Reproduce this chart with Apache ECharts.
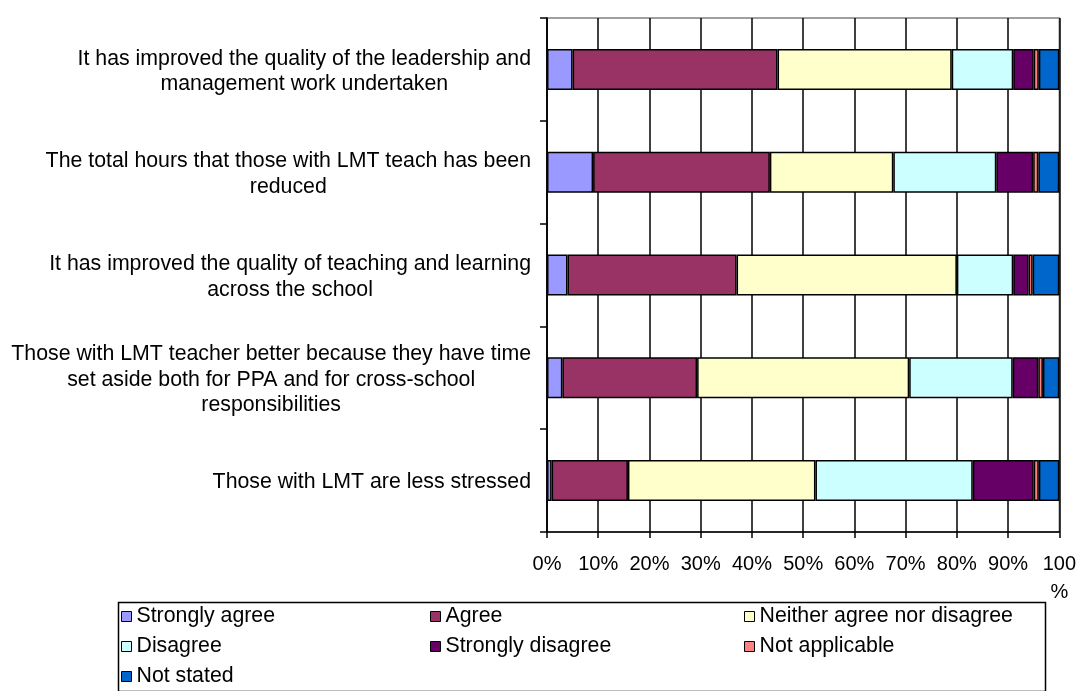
<!DOCTYPE html>
<html>
<head>
<meta charset="utf-8">
<script src="https://cdn.jsdelivr.net/npm/echarts@6/dist/echarts.min.js"></script>
<style>
  html, body { margin: 0; padding: 0; background: #fff; }
  #chart { width: 1079px; height: 691px; }
</style>
</head>
<body>
<div id="chart"></div>
<script>
// Survey statements, top to bottom (line breaks as they wrap beside the axis)
const categories = [
  'It has improved the quality of the leadership and\nmanagement work undertaken',
  'The total hours that those with LMT teach has been\nreduced',
  'It has improved the quality of teaching and learning\nacross the school',
  'Those with LMT teacher better because they have time\nset aside both for PPA and for cross-school\nresponsibilities',
  'Those with LMT are less stressed'
];

// Share of responses (%) for each statement
const stronglyAgree    = [5, 9, 4, 3, 0.9];
const agree            = [40, 34.5, 33, 26.3, 14.9];
const neither          = [34, 24.1, 43, 41.4, 36.6];
const disagree         = [12, 20.1, 11, 20.2, 30.7];
const stronglyDisagree = [4, 7.2, 3, 5, 11.9];
const notApplicable    = [1, 1, 0.8, 0.9, 1];
const notStated        = [4, 4.1, 5.2, 3.2, 4];

const responseNames = [
  'Strongly agree', 'Agree', 'Neither agree nor disagree',
  'Disagree', 'Strongly disagree', 'Not applicable', 'Not stated'
];
const responseColors = ['#9999FF', '#993366', '#FFFFCC', '#CCFFFF', '#660066', '#FF8080', '#0066CC'];
const responseValues = [stronglyAgree, agree, neither, disagree, stronglyDisagree, notApplicable, notStated];

// x-axis tick values
const xTicks = [0, 10, 20, 30, 40, 50, 60, 70, 80, 90, 100];

const FONT = 'Liberation Sans, Arial, sans-serif';

const chart = echarts.init(document.getElementById('chart'), null, { renderer: 'canvas' });

const series = responseNames.map((name, i) => ({
  name: name,
  type: 'bar',
  stack: 'total',
  barWidth: 41,
  data: responseValues[i],
  itemStyle: { color: responseColors[i], borderColor: '#000', borderWidth: 1.5 },
  emphasis: { disabled: true }
}));

// Legend laid out as three columns inside a framed box
function legendColumn(names, left) {
  return {
    data: names,
    orient: 'vertical',
    left: left,
    top: 606,
    icon: 'rect',
    itemWidth: 10,
    itemHeight: 10,
    itemGap: 9,
    padding: 0,
    selectedMode: false,
    itemStyle: { borderColor: '#000', borderWidth: 1 },
    textStyle: { fontFamily: FONT, fontSize: 21.3, color: '#000', lineHeight: 21 }
  };
}

chart.setOption({
  animation: false,
  backgroundColor: '#fff',
  grid: {
    left: 547, right: 17, top: 18, bottom: 159,
    show: true, borderColor: '#808080', borderWidth: 1.5, backgroundColor: 'transparent'
  },
  xAxis: {
    type: 'value',
    min: xTicks[0],
    max: xTicks[xTicks.length - 1],
    interval: 10,
    axisLine: { show: true, lineStyle: { color: '#000', width: 1.5 } },
    axisTick: { show: true, length: 6, lineStyle: { color: '#000', width: 1.5 } },
    splitLine: { show: true, lineStyle: { color: '#000', width: 1.5 } },
    axisLabel: {
      fontFamily: FONT, fontSize: 20, color: '#000', margin: 18, lineHeight: 28,
      formatter: v => (v === 100 ? '100\n%' : v + '%')
    }
  },
  yAxis: {
    type: 'category',
    data: categories,
    inverse: true,
    axisLine: { show: true, lineStyle: { color: '#000', width: 1.5 } },
    axisTick: { show: true, length: 7, lineStyle: { color: '#000', width: 1.5 } },
    splitLine: { show: false },
    axisLabel: {
      margin: 16,
      align: 'right',
      padding: [4, 0, 0, 0],
      formatter: v => v.split('\n').map(l => '{c|' + l + '}').join('\n'),
      rich: {
        c: { align: 'center', fontFamily: FONT, fontSize: 21.3, color: '#000', lineHeight: 25.5 }
      }
    }
  },
  legend: [
    legendColumn(['Strongly agree', 'Disagree', 'Not stated'], 121),
    legendColumn(['Agree', 'Strongly disagree'], 430),
    legendColumn(['Neither agree nor disagree', 'Not applicable'], 744)
  ],
  graphic: [{
    type: 'rect',
    left: 116, top: 600,
    shape: { width: 927, height: 89 },
    style: { fill: 'none', stroke: '#000', lineWidth: 1.5 },
    silent: true,
    z: -1
  }],
  series: series
});
</script>
</body>
</html>
